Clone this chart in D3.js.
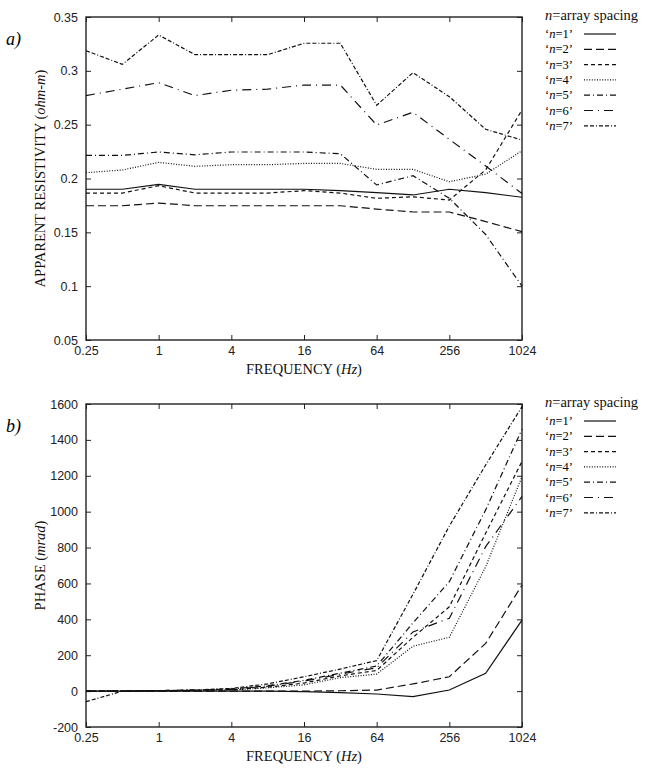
<!DOCTYPE html>
<html lang="en">
<head>
<meta charset="UTF-8">
<title>Apparent resistivity and phase vs frequency</title>
<script src="https://d3js.org/d3.v7.min.js"></script>
<style>
  body { margin: 0; background: #fff; }
  svg { font-family: "Liberation Serif", "DejaVu Serif", serif; }
  .tick text { font-size: 12.5px; fill: #222; }
  .tick line { stroke: #222; stroke-width: 1; }
  .domain { display: none; }
  .frame { fill: none; stroke: #222; stroke-width: 1.4; }
  .series { fill: none; stroke: #111; stroke-width: 1.2; }
  .lab { font-size: 14.5px; fill: #111; }
</style>
</head>
<body>
<svg width="649" height="772"></svg>
<script>
// frequencies (Hz), one point per octave
const freqs = [0.25, 0.5, 1, 2, 4, 8, 16, 32, 64, 128, 256, 512, 1024];
const freqTicks = [0.25, 1, 4, 16, 64, 256, 1024];
const seriesNames = ["n=1", "n=2", "n=3", "n=4", "n=5", "n=6", "n=7"];

// apparent resistivity (ohm-m)
const rho1 = [0.190, 0.190, 0.1945, 0.190, 0.190, 0.190, 0.190, 0.1887, 0.1868, 0.1847, 0.190, 0.1868, 0.1826];
const rho2 = [0.1747, 0.1747, 0.1772, 0.1747, 0.1747, 0.1747, 0.1747, 0.1747, 0.1716, 0.1689, 0.1689, 0.160, 0.1506];
const rho3 = [0.1865, 0.1865, 0.1933, 0.1865, 0.1865, 0.1865, 0.1887, 0.1865, 0.1816, 0.183, 0.180, 0.208, 0.2636];
const rho4 = [0.2054, 0.2079, 0.215, 0.2113, 0.2128, 0.2128, 0.214, 0.214, 0.2085, 0.2085, 0.197, 0.204, 0.2258];
const rho5 = [0.2215, 0.2215, 0.2246, 0.222, 0.2246, 0.2246, 0.2246, 0.223, 0.194, 0.2026, 0.1816, 0.148, 0.100];
const rho6 = [0.277, 0.283, 0.289, 0.277, 0.282, 0.283, 0.2868, 0.2868, 0.2497, 0.2615, 0.2364, 0.2116, 0.186];
const rho7 = [0.3187, 0.306, 0.3333, 0.315, 0.315, 0.315, 0.3256, 0.3256, 0.268, 0.2983, 0.276, 0.2457, 0.2357];
const rhoTicks = [0.05, 0.1, 0.15, 0.2, 0.25, 0.3, 0.35];

// phase (mrad)
const ph1 = [0, 0, 0, 0, 0, 0, -3, -8, -16, -31, 6, 99, 396];
const ph2 = [0, 0, 0, 0, 0, 0, 0, 2, 6, 40, 80, 266, 591];
const ph3 = [0, 0, 2, 4, 8, 22, 45, 85, 115, 300, 470, 880, 1280];
const ph4 = [0, 0, 1, 3, 6, 18, 35, 75, 95, 250, 300, 693, 1195];
const ph5 = [0, 0, 3, 6, 12, 30, 60, 100, 140, 380, 610, 1010, 1460];
const ph6 = [0, 0, 2, 5, 10, 28, 55, 95, 130, 330, 406, 805, 1085];
const ph7 = [-59, 0, 3, 6, 15, 40, 80, 123, 170, 540, 920, 1260, 1585];
const phTicks = [-200, 0, 200, 400, 600, 800, 1000, 1200, 1400, 1600];

// line styles, gnuplot-like
const dashes = ["", "8,4", "4,3", "1,1.6", "6,3,1,3", "9,5,1,5", "4,2,4,2,1,2"];

const svg = d3.select("svg");

function panel(opts) {
  const { top, bottom, left, right, yDomain, yTicks, yFmt, series, tag, yLabel, yUnit } = opts;
  const x = d3.scaleLog().base(2).domain([0.25, 1024]).range([left, right]);
  const y = d3.scaleLinear().domain(yDomain).range([bottom, top]);
  const g = svg.append("g");

  // ticks on all four sides, pointing inward
  g.append("g").attr("transform", `translate(0,${bottom})`)
    .call(d3.axisBottom(x).tickValues(freqTicks).tickFormat(d => d).tickSizeInner(-5).tickSizeOuter(0).tickPadding(6));
  g.append("g").attr("transform", `translate(0,${top})`)
    .call(d3.axisTop(x).tickValues(freqTicks).tickFormat("").tickSizeInner(-5).tickSizeOuter(0));
  g.append("g").attr("transform", `translate(${left},0)`)
    .call(d3.axisLeft(y).tickValues(yTicks).tickFormat(yFmt).tickSizeInner(-5).tickSizeOuter(0).tickPadding(8));
  g.append("g").attr("transform", `translate(${right},0)`)
    .call(d3.axisRight(y).tickValues(yTicks).tickFormat("").tickSizeInner(-5).tickSizeOuter(0));

  g.append("rect").attr("class", "frame")
    .attr("x", left).attr("y", top).attr("width", right - left).attr("height", bottom - top);

  const line = d3.line().x((d, i) => x(freqs[i])).y(d => y(d));
  series.forEach((s, i) => {
    g.append("path").attr("class", "series").attr("d", line(s))
      .attr("stroke-dasharray", dashes[i] || null);
  });

  // x label
  const xl = g.append("text").attr("class", "lab").attr("x", (left + right) / 2).attr("y", bottom + 34)
    .attr("text-anchor", "middle");
  xl.append("tspan").text("FREQUENCY (");
  xl.append("tspan").attr("font-style", "italic").text("Hz");
  xl.append("tspan").text(")");

  // y label
  const yl = g.append("text").attr("class", "lab")
    .attr("transform", `translate(45,${(top + bottom) / 2}) rotate(-90)`).attr("text-anchor", "middle");
  yl.append("tspan").text(yLabel + " (");
  yl.append("tspan").attr("font-style", "italic").text(yUnit);
  yl.append("tspan").text(")");

  // panel tag
  g.append("text").attr("x", 6).attr("y", top + 28).attr("font-size", 18).attr("font-style", "italic").text(tag);

  // legend
  const lx = 545, ly = top + 3;
  const head = g.append("text").attr("class", "lab").attr("x", lx).attr("y", ly);
  head.append("tspan").attr("font-style", "italic").text("n");
  head.append("tspan").text("=array spacing");
  seriesNames.forEach((name, i) => {
    const yy = ly + 18 + i * 15.3;
    const t = g.append("text").attr("x", lx).attr("y", yy).attr("font-size", 12.5);
    t.append("tspan").text("\u2018");
    t.append("tspan").attr("font-style", "italic").text("n");
    t.append("tspan").text(name.slice(1) + "\u2019");
    g.append("line").attr("class", "series")
      .attr("x1", 584).attr("x2", 616).attr("y1", yy - 4).attr("y2", yy - 4)
      .attr("stroke-dasharray", dashes[i] || null);
  });
}

panel({
  top: 17, bottom: 340, left: 86, right: 522,
  yDomain: [0.05, 0.35], yTicks: rhoTicks, yFmt: d => d3.format("")(+d.toFixed(2)),
  series: [rho1, rho2, rho3, rho4, rho5, rho6, rho7],
  tag: "a)", yLabel: "APPARENT RESISTIVITY", yUnit: "ohm-m"
});

panel({
  top: 404, bottom: 727, left: 86, right: 522,
  yDomain: [-200, 1600], yTicks: phTicks, yFmt: d => d,
  series: [ph1, ph2, ph3, ph4, ph5, ph6, ph7],
  tag: "b)", yLabel: "PHASE", yUnit: "mrad"
});
</script>
</body>
</html>
